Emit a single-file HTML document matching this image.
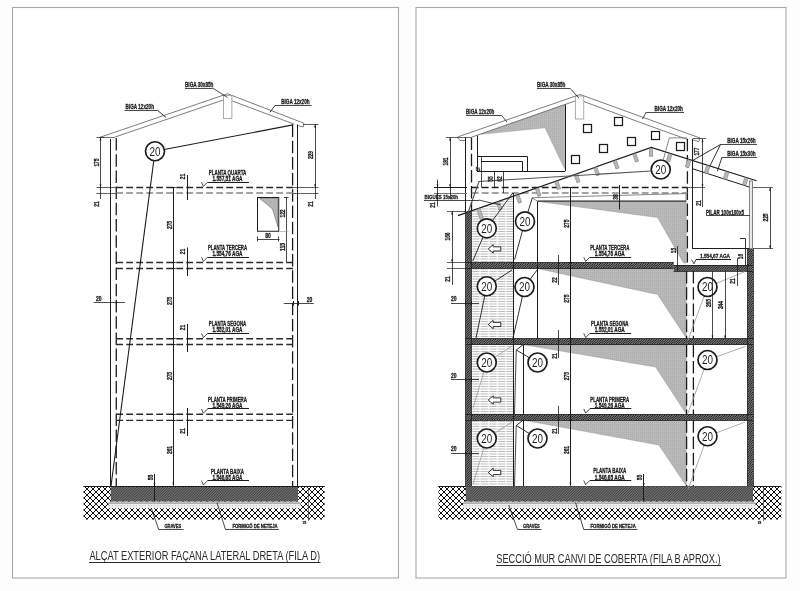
<!DOCTYPE html>
<html><head><meta charset="utf-8"><title>Seccions</title>
<style>
html,body{margin:0;padding:0;background:#fdfdfd;}
svg{display:block;will-change:transform;font-family:"Liberation Sans",sans-serif;}
</style></head><body>
<svg width="800" height="591" viewBox="0 0 800 591">
<defs>
<pattern id="xh" width="6" height="6" patternUnits="userSpaceOnUse" x="438" y="486">
<path d="M-1,7 L7,-1 M-1,1 L1,-1 M5,7 L7,5" stroke="#0a0a0a" stroke-width="0.95" fill="none"/>
<path d="M-1,-1 L7,7 M-1,5 L1,7 M5,-1 L7,1" stroke="#0a0a0a" stroke-width="1.0" fill="none"/>
</pattern>
<pattern id="dk" width="2.6" height="2.6" patternUnits="userSpaceOnUse">
<rect width="2.6" height="2.6" fill="#8c8c8c"/>
<path d="M-0.5,0.5 L0.5,-0.5 M-0.5,3.1 L3.1,-0.5 M2.1,3.1 L3.1,2.1" stroke="#2e2e2e" stroke-width="0.95"/>
</pattern>
<pattern id="wl" width="2.4" height="2.4" patternUnits="userSpaceOnUse">
<rect width="2.4" height="2.4" fill="#d4d4d4"/>
<path d="M-0.5,0.5 L0.5,-0.5 M-0.5,2.9 L2.9,-0.5 M1.9,2.9 L2.9,1.9" stroke="#050505" stroke-width="1.0"/>
</pattern>
<pattern id="lh" width="8.6" height="5" patternUnits="userSpaceOnUse" x="471.5" y="0">
<rect width="8.6" height="5" fill="#fdfdfd"/>
<path d="M0.6,1.5 H8 M0.6,4 H8" stroke="#bdbdbd" stroke-width="1"/>
</pattern>
<pattern id="gr" width="2" height="2" patternUnits="userSpaceOnUse">
<rect width="2" height="2" fill="#b9b9b9"/>
<rect width="1" height="1" fill="#adadad"/>
</pattern>
<pattern id="gv" width="3" height="3" patternUnits="userSpaceOnUse">
<rect width="3" height="3" fill="#ececec"/>
<rect x="1" y="1" width="1" height="1" fill="#c4c4c4"/>
</pattern>
</defs>
<rect x="12.5" y="7.5" width="386" height="570.5" fill="#fff" stroke="#a9a9a9" stroke-width="1.1"/>
<rect x="416" y="7.5" width="370" height="570.5" fill="#fff" stroke="#a9a9a9" stroke-width="1.1"/>

<g id="left">
<rect x="83.6" y="486" width="241" height="33.5" fill="url(#xh)" stroke="none" stroke-width="0" rx="0"/>
<line x1="83.6" y1="486.5" x2="324.6" y2="486.5" stroke="#1c1c1c" stroke-width="1.1"/>
<rect x="108.5" y="501.5" width="192" height="6.8" fill="url(#gv)" stroke="none" stroke-width="0" rx="0"/>
<line x1="108.5" y1="503.2" x2="300.5" y2="503.2" stroke="#b0b0b0" stroke-width="1.7"/>
<rect x="110.75" y="486.2" width="187.25" height="15.3" fill="url(#dk)" stroke="none" stroke-width="0" rx="0"/>
<line x1="110.75" y1="486.5" x2="298" y2="486.5" stroke="#1c1c1c" stroke-width="1"/>
<polyline points="99.4,137.5 227.5,93.75 303.9,123.2" fill="none" stroke="#6e6e6e" stroke-width="0.9"/>
<polyline points="114.25,137.3 223.6,99.9" fill="none" stroke="#6e6e6e" stroke-width="0.9"/>
<polyline points="232,100.9 294.3,124.2" fill="none" stroke="#6e6e6e" stroke-width="0.9"/>
<line x1="99.4" y1="137.5" x2="114.25" y2="137.5" stroke="#6e6e6e" stroke-width="1.0"/>
<polyline points="303.9,123.2 303.2,127 298,125.6" fill="none" stroke="#6e6e6e" stroke-width="0.9"/>
<rect x="223.6" y="95.5" width="8.3" height="23" fill="#fff" stroke="#888" stroke-width="0.7" rx="0"/>
<line x1="110.5" y1="139" x2="110.5" y2="486" stroke="#1c1c1c" stroke-width="1.0"/>
<line x1="116.25" y1="138" x2="116.25" y2="486" stroke="#1c1c1c" stroke-width="1.3" stroke-dasharray="12.5 3.7"/>
<line x1="292.6" y1="124.5" x2="292.6" y2="486" stroke="#1c1c1c" stroke-width="1.3" stroke-dasharray="12.5 3.7"/>
<line x1="297.5" y1="124.5" x2="297.5" y2="486" stroke="#1c1c1c" stroke-width="1.0"/>
<line x1="116.25" y1="187.5" x2="293" y2="187.5" stroke="#2a2a2a" stroke-width="1.3" stroke-dasharray="6.8 3.2"/>
<line x1="116.25" y1="193" x2="293" y2="193" stroke="#858585" stroke-width="1.6" stroke-dasharray="6.8 3.2"/>
<line x1="116.25" y1="262.5" x2="293" y2="262.5" stroke="#2a2a2a" stroke-width="1.3" stroke-dasharray="6.8 3.2"/>
<line x1="116.25" y1="268.5" x2="293" y2="268.5" stroke="#2a2a2a" stroke-width="1.3" stroke-dasharray="6.8 3.2"/>
<line x1="116.25" y1="338.75" x2="293" y2="338.75" stroke="#2a2a2a" stroke-width="1.3" stroke-dasharray="6.8 3.2"/>
<line x1="116.25" y1="344.5" x2="293" y2="344.5" stroke="#2a2a2a" stroke-width="1.3" stroke-dasharray="6.8 3.2"/>
<line x1="116.25" y1="414.25" x2="293" y2="414.25" stroke="#2a2a2a" stroke-width="1.3" stroke-dasharray="6.8 3.2"/>
<line x1="116.25" y1="420.3" x2="293" y2="420.3" stroke="#2a2a2a" stroke-width="1.3" stroke-dasharray="6.8 3.2"/>
<line x1="96.5" y1="187.5" x2="116" y2="187.5" stroke="#1c1c1c" stroke-width="0.7"/>
<line x1="96.5" y1="193.5" x2="116" y2="193.5" stroke="#1c1c1c" stroke-width="0.7"/>
<line x1="293" y1="187.5" x2="318.5" y2="187.5" stroke="#1c1c1c" stroke-width="0.7"/>
<line x1="293" y1="193.5" x2="318.5" y2="193.5" stroke="#1c1c1c" stroke-width="0.7"/>
<line x1="96.5" y1="137.5" x2="104" y2="137.5" stroke="#1c1c1c" stroke-width="0.7"/>
<line x1="303" y1="124.5" x2="318.5" y2="124.5" stroke="#1c1c1c" stroke-width="0.7"/>
<line x1="100.5" y1="137.2" x2="100.5" y2="199" stroke="#1c1c1c" stroke-width="0.8"/>
<polygon points="100.5,137.2 99.6,140.39999999999998 101.4,140.39999999999998" fill="#1c1c1c"/>
<polygon points="100.5,187.5 99.6,184.3 101.4,184.3" fill="#1c1c1c"/>
<text x="98.8" y="162.5" font-size="7" text-anchor="middle" font-weight="bold" fill="#1c1c1c" stroke="#1c1c1c" stroke-width="0.3" textLength="8.2" lengthAdjust="spacingAndGlyphs" transform="rotate(-90 98.8 162.5)">175</text>
<text x="98.8" y="204" font-size="7" text-anchor="middle" font-weight="bold" fill="#1c1c1c" stroke="#1c1c1c" stroke-width="0.3" textLength="5.4" lengthAdjust="spacingAndGlyphs" transform="rotate(-90 98.8 204)">21</text>
<line x1="315.5" y1="124.2" x2="315.5" y2="199" stroke="#1c1c1c" stroke-width="0.8"/>
<polygon points="315,124.2 314.1,127.4 315.9,127.4" fill="#1c1c1c"/>
<polygon points="315,187.5 314.1,184.3 315.9,184.3" fill="#1c1c1c"/>
<text x="313.3" y="155" font-size="7" text-anchor="middle" font-weight="bold" fill="#1c1c1c" stroke="#1c1c1c" stroke-width="0.3" textLength="8.2" lengthAdjust="spacingAndGlyphs" transform="rotate(-90 313.3 155)">229</text>
<text x="313.3" y="204" font-size="7" text-anchor="middle" font-weight="bold" fill="#1c1c1c" stroke="#1c1c1c" stroke-width="0.3" textLength="5.4" lengthAdjust="spacingAndGlyphs" transform="rotate(-90 313.3 204)">21</text>
<line x1="173.5" y1="187.5" x2="173.5" y2="485.8" stroke="#1c1c1c" stroke-width="1"/>
<line x1="171" y1="187.5" x2="175.6" y2="187.5" stroke="#1c1c1c" stroke-width="1.0"/>
<line x1="171" y1="262.5" x2="175.6" y2="262.5" stroke="#1c1c1c" stroke-width="1.0"/>
<line x1="171" y1="268.5" x2="175.6" y2="268.5" stroke="#1c1c1c" stroke-width="1.0"/>
<line x1="171" y1="338.5" x2="175.6" y2="338.5" stroke="#1c1c1c" stroke-width="1.0"/>
<line x1="171" y1="344.5" x2="175.6" y2="344.5" stroke="#1c1c1c" stroke-width="1.0"/>
<line x1="171" y1="414.5" x2="175.6" y2="414.5" stroke="#1c1c1c" stroke-width="1.0"/>
<line x1="171" y1="420.5" x2="175.6" y2="420.5" stroke="#1c1c1c" stroke-width="1.0"/>
<polygon points="173.3,485.8 172.4,482.6 174.20000000000002,482.6" fill="#1c1c1c"/>
<text x="172.2" y="225" font-size="7" text-anchor="middle" font-weight="bold" fill="#1c1c1c" stroke="#1c1c1c" stroke-width="0.3" textLength="8.2" lengthAdjust="spacingAndGlyphs" transform="rotate(-90 172.2 225)">275</text>
<text x="172.2" y="301" font-size="7" text-anchor="middle" font-weight="bold" fill="#1c1c1c" stroke="#1c1c1c" stroke-width="0.3" textLength="8.2" lengthAdjust="spacingAndGlyphs" transform="rotate(-90 172.2 301)">275</text>
<text x="172.2" y="376" font-size="7" text-anchor="middle" font-weight="bold" fill="#1c1c1c" stroke="#1c1c1c" stroke-width="0.3" textLength="8.2" lengthAdjust="spacingAndGlyphs" transform="rotate(-90 172.2 376)">275</text>
<text x="172.2" y="450" font-size="7" text-anchor="middle" font-weight="bold" fill="#1c1c1c" stroke="#1c1c1c" stroke-width="0.3" textLength="8.2" lengthAdjust="spacingAndGlyphs" transform="rotate(-90 172.2 450)">261</text>
<line x1="187.5" y1="175" x2="187.5" y2="200" stroke="#1c1c1c" stroke-width="1.0"/>
<text x="185.3" y="176.5" font-size="7" text-anchor="middle" font-weight="bold" fill="#1c1c1c" stroke="#1c1c1c" stroke-width="0.3" textLength="5.4" lengthAdjust="spacingAndGlyphs" transform="rotate(-90 185.3 176.5)">21</text>
<line x1="187.5" y1="247.5" x2="187.5" y2="276" stroke="#1c1c1c" stroke-width="1.0"/>
<text x="185.3" y="251.5" font-size="7" text-anchor="middle" font-weight="bold" fill="#1c1c1c" stroke="#1c1c1c" stroke-width="0.3" textLength="5.4" lengthAdjust="spacingAndGlyphs" transform="rotate(-90 185.3 251.5)">21</text>
<line x1="187.5" y1="324" x2="187.5" y2="352" stroke="#1c1c1c" stroke-width="1.0"/>
<text x="185.3" y="327.5" font-size="7" text-anchor="middle" font-weight="bold" fill="#1c1c1c" stroke="#1c1c1c" stroke-width="0.3" textLength="5.4" lengthAdjust="spacingAndGlyphs" transform="rotate(-90 185.3 327.5)">21</text>
<line x1="187.5" y1="408" x2="187.5" y2="436" stroke="#1c1c1c" stroke-width="1.0"/>
<text x="185.3" y="431" font-size="7" text-anchor="middle" font-weight="bold" fill="#1c1c1c" stroke="#1c1c1c" stroke-width="0.3" textLength="5.4" lengthAdjust="spacingAndGlyphs" transform="rotate(-90 185.3 431)">21</text>
<text x="98.7" y="300.7" font-size="7" text-anchor="middle" font-weight="bold" fill="#1c1c1c" stroke="#1c1c1c" stroke-width="0.3" textLength="5.6" lengthAdjust="spacingAndGlyphs">20</text>
<line x1="93.75" y1="302.5" x2="125" y2="302.5" stroke="#1c1c1c" stroke-width="0.8"/>
<line x1="110.5" y1="299.8" x2="110.5" y2="304.2" stroke="#1c1c1c" stroke-width="1"/>
<line x1="116.5" y1="299.8" x2="116.5" y2="304.2" stroke="#1c1c1c" stroke-width="1"/>
<text x="309.5" y="302" font-size="7" text-anchor="middle" font-weight="bold" fill="#1c1c1c" stroke="#1c1c1c" stroke-width="0.3" textLength="5.6" lengthAdjust="spacingAndGlyphs">20</text>
<line x1="283.75" y1="303.5" x2="313.75" y2="303.5" stroke="#1c1c1c" stroke-width="0.8"/>
<line x1="293.5" y1="301" x2="293.5" y2="305.6" stroke="#1c1c1c" stroke-width="1"/>
<line x1="298.5" y1="301" x2="298.5" y2="305.6" stroke="#1c1c1c" stroke-width="1"/>
<rect x="257.5" y="197.5" width="21.25" height="33.75" fill="#fff" stroke="#1c1c1c" stroke-width="1" rx="0"/>
<polygon points="259.5,198.3 278,198.3 278,227 272.5,209" fill="#b5b5b5" stroke="#555" stroke-width="0.5"/>
<line x1="286.5" y1="197.5" x2="286.5" y2="262.5" stroke="#1c1c1c" stroke-width="0.8"/>
<line x1="284" y1="197.5" x2="288.5" y2="197.5" stroke="#1c1c1c" stroke-width="0.8"/>
<line x1="280" y1="231.5" x2="288.5" y2="231.5" stroke="#999" stroke-width="0.6"/>
<text x="284.6" y="213.5" font-size="7" text-anchor="middle" font-weight="bold" fill="#1c1c1c" stroke="#1c1c1c" stroke-width="0.3" textLength="8.2" lengthAdjust="spacingAndGlyphs" transform="rotate(-90 284.6 213.5)">122</text>
<text x="284.6" y="247" font-size="7" text-anchor="middle" font-weight="bold" fill="#1c1c1c" stroke="#1c1c1c" stroke-width="0.3" textLength="8.2" lengthAdjust="spacingAndGlyphs" transform="rotate(-90 284.6 247)">115</text>
<line x1="257" y1="239.5" x2="279.5" y2="239.5" stroke="#1c1c1c" stroke-width="0.8"/>
<line x1="257.5" y1="236.5" x2="257.5" y2="241.5" stroke="#1c1c1c" stroke-width="0.8"/>
<line x1="278.5" y1="236.5" x2="278.5" y2="241.5" stroke="#1c1c1c" stroke-width="0.8"/>
<text x="268" y="237.6" font-size="7" text-anchor="middle" font-weight="bold" fill="#1c1c1c" stroke="#1c1c1c" stroke-width="0.3" textLength="5.6" lengthAdjust="spacingAndGlyphs">80</text>
<line x1="155" y1="151.25" x2="292.9" y2="124.9" stroke="#1c1c1c" stroke-width="1.1"/>
<line x1="155" y1="151.25" x2="111" y2="486" stroke="#1c1c1c" stroke-width="1.1"/>
<circle cx="155" cy="151.25" r="9.5" fill="#fff" stroke="#1c1c1c" stroke-width="1.7"/>
<text x="155" y="155.55" font-size="12" text-anchor="middle" font-weight="normal" fill="#1c1c1c" textLength="11" lengthAdjust="spacingAndGlyphs">20</text>
<text x="227.5" y="175.0" font-size="7" text-anchor="middle" font-weight="bold" fill="#1c1c1c" stroke="#1c1c1c" stroke-width="0.3" textLength="37.5" lengthAdjust="spacingAndGlyphs">PLANTA QUARTA</text>
<text x="227.5" y="181.2" font-size="6.3" text-anchor="middle" font-weight="bold" fill="#1c1c1c" stroke="#1c1c1c" stroke-width="0.3" textLength="30" lengthAdjust="spacingAndGlyphs">1.557,51 AGA</text>
<line x1="207.5" y1="182.5" x2="249.0" y2="182.5" stroke="#1c1c1c" stroke-width="1.0"/>
<polyline points="201.5,182.2 203.4,186.39999999999998 207.5,182.2" fill="none" stroke="#1c1c1c" stroke-width="0.8"/>
<text x="227.5" y="250.0" font-size="7" text-anchor="middle" font-weight="bold" fill="#1c1c1c" stroke="#1c1c1c" stroke-width="0.3" textLength="39" lengthAdjust="spacingAndGlyphs">PLANTA TERCERA</text>
<text x="227.5" y="256.2" font-size="6.3" text-anchor="middle" font-weight="bold" fill="#1c1c1c" stroke="#1c1c1c" stroke-width="0.3" textLength="30" lengthAdjust="spacingAndGlyphs">1.554,76 AGA</text>
<line x1="207.5" y1="257.5" x2="249.0" y2="257.5" stroke="#1c1c1c" stroke-width="1.0"/>
<polyline points="201.5,257.2 203.4,261.4 207.5,257.2" fill="none" stroke="#1c1c1c" stroke-width="0.8"/>
<text x="227.5" y="326.25" font-size="7" text-anchor="middle" font-weight="bold" fill="#1c1c1c" stroke="#1c1c1c" stroke-width="0.3" textLength="37.5" lengthAdjust="spacingAndGlyphs">PLANTA SEGONA</text>
<text x="227.5" y="332.45" font-size="6.3" text-anchor="middle" font-weight="bold" fill="#1c1c1c" stroke="#1c1c1c" stroke-width="0.3" textLength="30" lengthAdjust="spacingAndGlyphs">1.552,01 AGA</text>
<line x1="207.5" y1="333.5" x2="249.0" y2="333.5" stroke="#1c1c1c" stroke-width="1.0"/>
<polyline points="201.5,333.45 203.4,337.65 207.5,333.45" fill="none" stroke="#1c1c1c" stroke-width="0.8"/>
<text x="227.5" y="401.75" font-size="7" text-anchor="middle" font-weight="bold" fill="#1c1c1c" stroke="#1c1c1c" stroke-width="0.3" textLength="39" lengthAdjust="spacingAndGlyphs">PLANTA PRIMERA</text>
<text x="227.5" y="407.95" font-size="6.3" text-anchor="middle" font-weight="bold" fill="#1c1c1c" stroke="#1c1c1c" stroke-width="0.3" textLength="30" lengthAdjust="spacingAndGlyphs">1.549,26 AGA</text>
<line x1="207.5" y1="408.5" x2="249.0" y2="408.5" stroke="#1c1c1c" stroke-width="1.0"/>
<polyline points="201.5,408.95 203.4,413.15 207.5,408.95" fill="none" stroke="#1c1c1c" stroke-width="0.8"/>
<text x="227.5" y="473.5" font-size="7" text-anchor="middle" font-weight="bold" fill="#1c1c1c" stroke="#1c1c1c" stroke-width="0.3" textLength="33" lengthAdjust="spacingAndGlyphs">PLANTA BAIXA</text>
<text x="227.5" y="479.7" font-size="6.3" text-anchor="middle" font-weight="bold" fill="#1c1c1c" stroke="#1c1c1c" stroke-width="0.3" textLength="30" lengthAdjust="spacingAndGlyphs">1.546,65 AGA</text>
<line x1="207.5" y1="480.5" x2="249.0" y2="480.5" stroke="#1c1c1c" stroke-width="1.0"/>
<polyline points="201.5,480.7 203.4,484.9 207.5,480.7" fill="none" stroke="#1c1c1c" stroke-width="0.8"/>
<text x="185" y="86.8" font-size="6.8" text-anchor="start" font-weight="bold" fill="#1c1c1c" stroke="#1c1c1c" stroke-width="0.3" textLength="28.4" lengthAdjust="spacingAndGlyphs">BIGA 30x85h</text>
<line x1="185" y1="88.5" x2="212.5" y2="88.5" stroke="#1c1c1c" stroke-width="0.8"/>
<line x1="212.5" y1="88" x2="227.5" y2="97.5" stroke="#1c1c1c" stroke-width="0.8"/>
<text x="125.6" y="108.8" font-size="6.8" text-anchor="start" font-weight="bold" fill="#1c1c1c" stroke="#1c1c1c" stroke-width="0.3" textLength="28.4" lengthAdjust="spacingAndGlyphs">BIGA 12x20h</text>
<line x1="124.75" y1="110.5" x2="157.1" y2="110.5" stroke="#1c1c1c" stroke-width="0.8"/>
<line x1="157.1" y1="110" x2="165.9" y2="117.4" stroke="#1c1c1c" stroke-width="0.9"/>
<text x="281.2" y="104.2" font-size="6.8" text-anchor="start" font-weight="bold" fill="#1c1c1c" stroke="#1c1c1c" stroke-width="0.3" textLength="28.4" lengthAdjust="spacingAndGlyphs">BIGA 12x20h</text>
<line x1="275" y1="105.5" x2="311.5" y2="105.5" stroke="#1c1c1c" stroke-width="0.8"/>
<line x1="275" y1="105.4" x2="269.9" y2="112.3" stroke="#1c1c1c" stroke-width="0.9"/>
<line x1="154.5" y1="474" x2="154.5" y2="501.5" stroke="#1c1c1c" stroke-width="1.0"/>
<polygon points="154.5,486.2 153.6,483.0 155.4,483.0" fill="#1c1c1c"/>
<polygon points="154.5,501.5 153.6,498.3 155.4,498.3" fill="#1c1c1c"/>
<text x="152.8" y="477.5" font-size="7" text-anchor="middle" font-weight="bold" fill="#1c1c1c" stroke="#1c1c1c" stroke-width="0.3" textLength="5.6" lengthAdjust="spacingAndGlyphs" transform="rotate(-90 152.8 477.5)">55</text>
<line x1="308.5" y1="488" x2="308.5" y2="521" stroke="#444" stroke-width="0.7"/>
<text x="306" y="522.5" font-size="3.6" text-anchor="middle" font-weight="bold" fill="#1c1c1c" stroke="#1c1c1c" stroke-width="0.3" textLength="3.2" lengthAdjust="spacingAndGlyphs" transform="rotate(-90 306 522.5)">15</text>
<text x="164.4" y="528.4" font-size="5.4" text-anchor="start" font-weight="bold" fill="#1c1c1c" stroke="#1c1c1c" stroke-width="0.3" textLength="16.8" lengthAdjust="spacingAndGlyphs">GRAVES</text>
<line x1="158.75" y1="529.5" x2="183.5" y2="529.5" stroke="#1c1c1c" stroke-width="0.8"/>
<line x1="158.75" y1="529.6" x2="151.25" y2="508" stroke="#1c1c1c" stroke-width="0.8"/>
<text x="232.4" y="528.4" font-size="5.4" text-anchor="start" font-weight="bold" fill="#1c1c1c" stroke="#1c1c1c" stroke-width="0.3" textLength="45.2" lengthAdjust="spacingAndGlyphs">FORMIGÓ DE NETEJA</text>
<line x1="225.5" y1="529.5" x2="279" y2="529.5" stroke="#1c1c1c" stroke-width="0.8"/>
<line x1="225.5" y1="529.6" x2="217" y2="502.5" stroke="#1c1c1c" stroke-width="0.8"/>
<text x="89.4" y="559.7" font-size="12.2" text-anchor="start" font-weight="normal" fill="#2a2a2a" textLength="230.6" lengthAdjust="spacingAndGlyphs">ALÇAT EXTERIOR FAÇANA LATERAL DRETA (FILA D)</text>
<line x1="89" y1="562.5" x2="320.5" y2="562.5" stroke="#2a2a2a" stroke-width="1.0"/>
</g>
<g id="right">
<rect x="438.4" y="486" width="343" height="33.5" fill="url(#xh)" stroke="none" stroke-width="0" rx="0"/>
<line x1="438.4" y1="486.5" x2="781.4" y2="486.5" stroke="#1c1c1c" stroke-width="1.1"/>
<rect x="463" y="501.5" width="292.5" height="6.8" fill="url(#gv)" stroke="none" stroke-width="0" rx="0"/>
<line x1="463" y1="503.2" x2="755.5" y2="503.2" stroke="#b0b0b0" stroke-width="1.7"/>
<rect x="465.75" y="486.2" width="287.25" height="15.3" fill="url(#dk)" stroke="none" stroke-width="0" rx="0"/>
<polygon points="471.25,211 513,196.5 513,262.5 471.25,262.5" fill="url(#lh)"/>
<rect x="471.25" y="268.5" width="41.75" height="70.25" fill="url(#lh)" stroke="none" stroke-width="0" rx="0"/>
<rect x="471.25" y="344.75" width="41.75" height="69.5" fill="url(#lh)" stroke="none" stroke-width="0" rx="0"/>
<rect x="471.25" y="420.25" width="41.75" height="65.75" fill="url(#lh)" stroke="none" stroke-width="0" rx="0"/>
<polygon points="481,134.3 564.5,104.8 564.5,168.8 545,127.8" fill="url(#gr)" stroke="#8a8a8a" stroke-width="0.4"/>
<polygon points="538,201.5 686.25,201.5 686.25,263 683.5,263 657.5,217.5" fill="url(#gr)" stroke="#8a8a8a" stroke-width="0.4"/>
<polygon points="537.5,268.6 673,268.6 673,271 686.25,271 686.25,338 657.5,294.5" fill="url(#gr)" stroke="#8a8a8a" stroke-width="0.4"/>
<polygon points="523.75,344.75 686.25,344.75 686.25,414 655.5,367" fill="url(#gr)" stroke="#8a8a8a" stroke-width="0.4"/>
<polygon points="523.75,420.25 686.25,420.25 686.25,485.8 658.75,445" fill="url(#gr)" stroke="#8a8a8a" stroke-width="0.4"/>
<rect x="465.75" y="211.25" width="5.5" height="275" fill="url(#wl)" stroke="none" stroke-width="0" rx="0"/>
<rect x="747.5" y="248.75" width="5.5" height="237.5" fill="url(#wl)" stroke="none" stroke-width="0" rx="0"/>
<rect x="465.75" y="262.5" width="208" height="6" fill="url(#wl)" stroke="none" stroke-width="0" rx="0"/>
<rect x="673.7" y="265" width="79.3" height="6" fill="url(#wl)" stroke="none" stroke-width="0" rx="0"/>
<rect x="465.75" y="338.75" width="287.25" height="6" fill="url(#wl)" stroke="none" stroke-width="0" rx="0"/>
<rect x="465.75" y="414.25" width="287.25" height="6" fill="url(#wl)" stroke="none" stroke-width="0" rx="0"/>
<line x1="465.75" y1="262.5" x2="673.7" y2="262.5" stroke="#1c1c1c" stroke-width="0.8"/>
<line x1="465.75" y1="268.5" x2="673.7" y2="268.5" stroke="#1c1c1c" stroke-width="0.8"/>
<line x1="673.7" y1="265.5" x2="753" y2="265.5" stroke="#1c1c1c" stroke-width="0.8"/>
<line x1="673.7" y1="271.5" x2="753" y2="271.5" stroke="#1c1c1c" stroke-width="0.8"/>
<line x1="465.75" y1="338.5" x2="753" y2="338.5" stroke="#1c1c1c" stroke-width="0.8"/>
<line x1="465.75" y1="344.5" x2="753" y2="344.5" stroke="#1c1c1c" stroke-width="0.8"/>
<line x1="465.75" y1="414.5" x2="753" y2="414.5" stroke="#1c1c1c" stroke-width="0.8"/>
<line x1="465.75" y1="420.5" x2="753" y2="420.5" stroke="#1c1c1c" stroke-width="0.8"/>
<line x1="465.5" y1="211.25" x2="465.5" y2="486" stroke="#1c1c1c" stroke-width="0.8"/>
<line x1="471.5" y1="211.25" x2="471.5" y2="486" stroke="#1c1c1c" stroke-width="0.8"/>
<line x1="747.5" y1="248.75" x2="747.5" y2="486" stroke="#1c1c1c" stroke-width="0.8"/>
<line x1="753.5" y1="248.75" x2="753.5" y2="486" stroke="#1c1c1c" stroke-width="0.8"/>
<polyline points="457.5,137 580,94.5 700,138" fill="none" stroke="#6e6e6e" stroke-width="0.9"/>
<polyline points="471.5,137.2 575.3,100.9" fill="none" stroke="#6e6e6e" stroke-width="0.9"/>
<polyline points="583.8,101.5 640,122.4 687.5,139.5" fill="none" stroke="#6e6e6e" stroke-width="0.9"/>
<line x1="457.5" y1="137.5" x2="471.5" y2="137.5" stroke="#6e6e6e" stroke-width="1.0"/>
<polyline points="457.5,137 460,140.5 466,140.5" fill="none" stroke="#6e6e6e" stroke-width="0.9"/>
<polyline points="700,138 699,141.5 693,140" fill="none" stroke="#6e6e6e" stroke-width="0.9"/>
<rect x="575.3" y="96" width="8.5" height="23" fill="#fff" stroke="#888" stroke-width="0.7" rx="0"/>
<line x1="465.5" y1="137.5" x2="465.5" y2="211.25" stroke="#1c1c1c" stroke-width="1.0"/>
<line x1="471.5" y1="137.5" x2="471.5" y2="211" stroke="#1c1c1c" stroke-width="1.3" stroke-dasharray="12.5 3.7"/>
<line x1="687.4" y1="138.8" x2="687.4" y2="262.5" stroke="#1c1c1c" stroke-width="1.3" stroke-dasharray="12.5 3.7"/>
<line x1="686.6" y1="271" x2="686.6" y2="338.75" stroke="#1c1c1c" stroke-width="1.3" stroke-dasharray="12.5 3.7"/>
<line x1="686.6" y1="344.75" x2="686.6" y2="414.25" stroke="#1c1c1c" stroke-width="1.3" stroke-dasharray="12.5 3.7"/>
<line x1="686.6" y1="420.25" x2="686.6" y2="486" stroke="#1c1c1c" stroke-width="1.3" stroke-dasharray="12.5 3.7"/>
<line x1="692.5" y1="138.8" x2="692.5" y2="248.75" stroke="#1c1c1c" stroke-width="1.0"/>
<line x1="693.4" y1="271" x2="693.4" y2="338.75" stroke="#1c1c1c" stroke-width="1.3" stroke-dasharray="12.5 3.7"/>
<line x1="693.4" y1="344.75" x2="693.4" y2="414.25" stroke="#1c1c1c" stroke-width="1.3" stroke-dasharray="12.5 3.7"/>
<line x1="693.4" y1="420.25" x2="693.4" y2="486" stroke="#1c1c1c" stroke-width="1.3" stroke-dasharray="12.5 3.7"/>
<line x1="477.5" y1="135.5" x2="477.5" y2="171.25" stroke="#1c1c1c" stroke-width="1.0"/>
<line x1="477" y1="171.5" x2="565" y2="171.5" stroke="#1c1c1c" stroke-width="1.0"/>
<line x1="565.5" y1="104.5" x2="565.5" y2="171.25" stroke="#1c1c1c" stroke-width="1.0"/>
<path d="M477,156.5 H527.5 V171" fill="none" stroke="#1c1c1c" stroke-width="1"/>
<path d="M481,161.5 H522.5 V171" fill="none" stroke="#1c1c1c" stroke-width="1"/>
<rect x="583.5" y="124.5" width="8" height="8" fill="#fff" stroke="#1c1c1c" stroke-width="1.25" rx="0"/>
<rect x="599.5" y="144.5" width="8" height="8" fill="#fff" stroke="#1c1c1c" stroke-width="1.25" rx="0"/>
<rect x="571.5" y="155.5" width="8" height="8" fill="#fff" stroke="#1c1c1c" stroke-width="1.25" rx="0"/>
<rect x="614.5" y="117.5" width="8" height="8" fill="#fff" stroke="#1c1c1c" stroke-width="1.25" rx="0"/>
<rect x="627.5" y="137.5" width="8" height="8" fill="#fff" stroke="#1c1c1c" stroke-width="1.25" rx="0"/>
<rect x="651.5" y="131.5" width="8" height="8" fill="#fff" stroke="#1c1c1c" stroke-width="1.25" rx="0"/>
<rect x="676.5" y="142.5" width="8" height="8" fill="#fff" stroke="#1c1c1c" stroke-width="1.25" rx="0"/>
<line x1="471.8" y1="187.5" x2="687.5" y2="187.5" stroke="#1c1c1c" stroke-width="1.3" stroke-dasharray="6.8 3.2"/>
<line x1="471.8" y1="193" x2="687.5" y2="193" stroke="#858585" stroke-width="1.5" stroke-dasharray="6.8 3.2"/>
<line x1="434" y1="187.5" x2="467" y2="187.5" stroke="#1c1c1c" stroke-width="1.0"/>
<line x1="434" y1="193.5" x2="467" y2="193.5" stroke="#777" stroke-width="1.1"/>
<line x1="687.5" y1="187.5" x2="705" y2="187.5" stroke="#1c1c1c" stroke-width="0.7"/>
<line x1="753" y1="187.5" x2="773" y2="187.5" stroke="#1c1c1c" stroke-width="0.7"/>
<polyline points="458,215.6 651.25,147.5 756.5,180.8" fill="none" stroke="#1c1c1c" stroke-width="1.2"/>
<line x1="692.7" y1="168.8" x2="749.8" y2="187.2" stroke="#1c1c1c" stroke-width="1"/>
<rect x="-1.65" y="0" width="3.3" height="8" fill="#b8b8b8" stroke="#777" stroke-width="0.5" transform="translate(634.4 154.03664) rotate(-19)"/>
<rect x="-1.65" y="0" width="3.3" height="8" fill="#b8b8b8" stroke="#777" stroke-width="0.5" transform="translate(614.9 160.90844) rotate(-19)"/>
<rect x="-1.65" y="0" width="3.3" height="8" fill="#b8b8b8" stroke="#777" stroke-width="0.5" transform="translate(595.4 167.78024) rotate(-19)"/>
<rect x="-1.65" y="0" width="3.3" height="8" fill="#b8b8b8" stroke="#777" stroke-width="0.5" transform="translate(575.9 174.65204) rotate(-19)"/>
<rect x="-1.65" y="0" width="3.3" height="8" fill="#b8b8b8" stroke="#777" stroke-width="0.5" transform="translate(556.4 181.52384) rotate(-19)"/>
<rect x="-1.65" y="0" width="3.3" height="8" fill="#b8b8b8" stroke="#777" stroke-width="0.5" transform="translate(536.9 188.39564) rotate(-19)"/>
<rect x="-1.65" y="0" width="3.3" height="8" fill="#b8b8b8" stroke="#777" stroke-width="0.5" transform="translate(517.4 195.26744) rotate(-19)"/>
<rect x="-1.65" y="0" width="3.3" height="8" fill="#b8b8b8" stroke="#777" stroke-width="0.5" transform="translate(497.9 202.13924) rotate(-19)"/>
<rect x="-1.65" y="0" width="3.3" height="12" fill="#b8b8b8" stroke="#777" stroke-width="0.5" transform="translate(478.4 209.01104) rotate(-19)"/>
<rect x="-1.75" y="0" width="3.5" height="7.5" fill="#b8b8b8" stroke="#777" stroke-width="0.5" transform="translate(670.25 154.0546) rotate(17)"/>
<rect x="-1.75" y="0" width="3.5" height="7.5" fill="#b8b8b8" stroke="#777" stroke-width="0.5" transform="translate(689.2 159.99353000000002) rotate(17)"/>
<rect x="-1.75" y="0" width="3.5" height="7.5" fill="#b8b8b8" stroke="#777" stroke-width="0.5" transform="translate(708.2 165.94813000000002) rotate(17)"/>
<rect x="-1.75" y="0" width="3.5" height="7.5" fill="#b8b8b8" stroke="#777" stroke-width="0.5" transform="translate(727.2 171.90273000000002) rotate(17)"/>
<rect x="-1.75" y="0" width="3.5" height="7.5" fill="#b8b8b8" stroke="#777" stroke-width="0.5" transform="translate(746.4 177.92001) rotate(17)"/>
<rect x="-1.75" y="0" width="3.5" height="8" fill="#b8b8b8" stroke="#777" stroke-width="0.5" transform="translate(651 148.2) rotate(0)"/>
<polyline points="467.5,214 479,181.5 651,171" fill="none" stroke="#555" stroke-width="1.1"/>
<line x1="513.5" y1="193" x2="513.5" y2="486" stroke="#1c1c1c" stroke-width="1"/>
<line x1="537.5" y1="201.2" x2="537.5" y2="338.75" stroke="#1c1c1c" stroke-width="1"/>
<polygon points="532,197.7 686,193.6 686,201.2 537.5,201.2" fill="#fff" stroke="#555" stroke-width="0.7"/>
<line x1="537.5" y1="201.2" x2="686" y2="201.2" stroke="#444" stroke-width="1.3"/>
<line x1="523.5" y1="344.75" x2="523.5" y2="414.25" stroke="#1c1c1c" stroke-width="1"/>
<line x1="523.5" y1="420.25" x2="523.5" y2="486" stroke="#1c1c1c" stroke-width="1"/>
<line x1="516.25" y1="350" x2="514.5" y2="414" stroke="#1c1c1c" stroke-width="0.8"/>
<line x1="516.25" y1="425.5" x2="514.5" y2="486" stroke="#1c1c1c" stroke-width="0.8"/>
<line x1="692.5" y1="248.5" x2="750" y2="248.5" stroke="#1c1c1c" stroke-width="1.0"/>
<rect x="749.3" y="181" width="3.2" height="67.75" fill="#e8e8e8" stroke="#555" stroke-width="0.7" rx="0"/>
<polyline points="740,238.5 745.5,238.5 745.5,265" fill="none" stroke="#1c1c1c" stroke-width="0.9"/>
<line x1="486.8" y1="228.3" x2="472.7" y2="261" stroke="#1c1c1c" stroke-width="0.9"/>
<line x1="486.8" y1="228.3" x2="512.75" y2="193" stroke="#1c1c1c" stroke-width="0.9"/>
<line x1="525" y1="221.3" x2="514.6" y2="259.6" stroke="#1c1c1c" stroke-width="0.9"/>
<line x1="525" y1="221.3" x2="532.25" y2="198" stroke="#1c1c1c" stroke-width="0.9"/>
<line x1="486.75" y1="286.25" x2="476" y2="338" stroke="#1c1c1c" stroke-width="0.9"/>
<line x1="486.75" y1="286.25" x2="512" y2="270" stroke="#1c1c1c" stroke-width="0.9"/>
<line x1="524.5" y1="287" x2="513" y2="338" stroke="#1c1c1c" stroke-width="0.9"/>
<line x1="524.5" y1="287" x2="537" y2="270" stroke="#1c1c1c" stroke-width="0.9"/>
<line x1="486.75" y1="362.5" x2="473" y2="408" stroke="#9a9a9a" stroke-width="0.8"/>
<line x1="486.75" y1="362.5" x2="512" y2="346" stroke="#9a9a9a" stroke-width="0.8"/>
<line x1="486.75" y1="438.5" x2="473" y2="484" stroke="#9a9a9a" stroke-width="0.8"/>
<line x1="486.75" y1="438.5" x2="512" y2="422" stroke="#9a9a9a" stroke-width="0.8"/>
<line x1="537.5" y1="362.5" x2="516.25" y2="350" stroke="#1c1c1c" stroke-width="0.9"/>
<line x1="516.25" y1="350" x2="523" y2="344.75" stroke="#1c1c1c" stroke-width="0.9"/>
<line x1="537.5" y1="438.5" x2="516.25" y2="425.5" stroke="#1c1c1c" stroke-width="0.9"/>
<line x1="516.25" y1="425.5" x2="523" y2="420.25" stroke="#1c1c1c" stroke-width="0.9"/>
<line x1="707.5" y1="287" x2="745" y2="271.5" stroke="#9a9a9a" stroke-width="0.8"/>
<line x1="707.5" y1="287" x2="688" y2="340" stroke="#9a9a9a" stroke-width="0.8"/>
<line x1="707.5" y1="360" x2="745" y2="346.5" stroke="#9a9a9a" stroke-width="0.8"/>
<line x1="707.5" y1="360" x2="688" y2="413" stroke="#9a9a9a" stroke-width="0.8"/>
<line x1="707.5" y1="436.25" x2="745" y2="422.0" stroke="#9a9a9a" stroke-width="0.8"/>
<line x1="707.5" y1="436.25" x2="688" y2="489.25" stroke="#9a9a9a" stroke-width="0.8"/>
<polyline points="663.25,159.75 669.4,137.9 687,137.9" fill="none" stroke="#777" stroke-width="0.9"/>
<circle cx="486.8" cy="228.3" r="9.5" fill="#fff" stroke="#1c1c1c" stroke-width="1.7"/>
<text x="486.8" y="232.60000000000002" font-size="12" text-anchor="middle" font-weight="normal" fill="#1c1c1c" textLength="11" lengthAdjust="spacingAndGlyphs">20</text>
<circle cx="525" cy="221.3" r="9.5" fill="#fff" stroke="#1c1c1c" stroke-width="1.7"/>
<text x="525" y="225.60000000000002" font-size="12" text-anchor="middle" font-weight="normal" fill="#1c1c1c" textLength="11" lengthAdjust="spacingAndGlyphs">20</text>
<circle cx="486.75" cy="286.25" r="9.5" fill="#fff" stroke="#1c1c1c" stroke-width="1.7"/>
<text x="486.75" y="290.55" font-size="12" text-anchor="middle" font-weight="normal" fill="#1c1c1c" textLength="11" lengthAdjust="spacingAndGlyphs">20</text>
<circle cx="524.5" cy="287" r="9.5" fill="#fff" stroke="#1c1c1c" stroke-width="1.7"/>
<text x="524.5" y="291.3" font-size="12" text-anchor="middle" font-weight="normal" fill="#1c1c1c" textLength="11" lengthAdjust="spacingAndGlyphs">20</text>
<circle cx="486.75" cy="362.5" r="9.5" fill="#fff" stroke="#1c1c1c" stroke-width="1.7"/>
<text x="486.75" y="366.8" font-size="12" text-anchor="middle" font-weight="normal" fill="#1c1c1c" textLength="11" lengthAdjust="spacingAndGlyphs">20</text>
<circle cx="537.5" cy="362.5" r="9.5" fill="#fff" stroke="#1c1c1c" stroke-width="1.7"/>
<text x="537.5" y="366.8" font-size="12" text-anchor="middle" font-weight="normal" fill="#1c1c1c" textLength="11" lengthAdjust="spacingAndGlyphs">20</text>
<circle cx="486.75" cy="438.5" r="9.5" fill="#fff" stroke="#1c1c1c" stroke-width="1.7"/>
<text x="486.75" y="442.8" font-size="12" text-anchor="middle" font-weight="normal" fill="#1c1c1c" textLength="11" lengthAdjust="spacingAndGlyphs">20</text>
<circle cx="537.5" cy="438.5" r="9.5" fill="#fff" stroke="#1c1c1c" stroke-width="1.7"/>
<text x="537.5" y="442.8" font-size="12" text-anchor="middle" font-weight="normal" fill="#1c1c1c" textLength="11" lengthAdjust="spacingAndGlyphs">20</text>
<circle cx="707.5" cy="287" r="9.5" fill="#fff" stroke="#1c1c1c" stroke-width="1.7"/>
<text x="707.5" y="291.3" font-size="12" text-anchor="middle" font-weight="normal" fill="#1c1c1c" textLength="11" lengthAdjust="spacingAndGlyphs">20</text>
<circle cx="707.5" cy="360" r="9.5" fill="#fff" stroke="#1c1c1c" stroke-width="1.7"/>
<text x="707.5" y="364.3" font-size="12" text-anchor="middle" font-weight="normal" fill="#1c1c1c" textLength="11" lengthAdjust="spacingAndGlyphs">20</text>
<circle cx="707.5" cy="436.25" r="9.5" fill="#fff" stroke="#1c1c1c" stroke-width="1.7"/>
<text x="707.5" y="440.55" font-size="12" text-anchor="middle" font-weight="normal" fill="#1c1c1c" textLength="11" lengthAdjust="spacingAndGlyphs">20</text>
<circle cx="660.75" cy="169.5" r="9.5" fill="#fff" stroke="#1c1c1c" stroke-width="1.7"/>
<text x="660.75" y="173.8" font-size="12" text-anchor="middle" font-weight="normal" fill="#1c1c1c" textLength="11" lengthAdjust="spacingAndGlyphs">20</text>
<path d="M488.2,248.9 l5,-4.2 v2.1 h7.6 v4.2 h-7.6 v2.1 z" fill="#fff" stroke="#1c1c1c" stroke-width="0.9"/>
<path d="M488.2,324.5 l5,-4.2 v2.1 h7.6 v4.2 h-7.6 v2.1 z" fill="#fff" stroke="#1c1c1c" stroke-width="0.9"/>
<path d="M488.2,400 l5,-4.2 v2.1 h7.6 v4.2 h-7.6 v2.1 z" fill="#fff" stroke="#1c1c1c" stroke-width="0.9"/>
<path d="M488.2,472.5 l5,-4.2 v2.1 h7.6 v4.2 h-7.6 v2.1 z" fill="#fff" stroke="#1c1c1c" stroke-width="0.9"/>
<text x="609.75" y="250.0" font-size="7" text-anchor="middle" font-weight="bold" fill="#1c1c1c" stroke="#1c1c1c" stroke-width="0.3" textLength="39" lengthAdjust="spacingAndGlyphs">PLANTA TERCERA</text>
<text x="609.75" y="256.2" font-size="6.3" text-anchor="middle" font-weight="bold" fill="#1c1c1c" stroke="#1c1c1c" stroke-width="0.3" textLength="30" lengthAdjust="spacingAndGlyphs">1.554,76 AGA</text>
<line x1="589.75" y1="257.5" x2="631.25" y2="257.5" stroke="#1c1c1c" stroke-width="1.0"/>
<polyline points="583.75,257.2 585.65,261.4 589.75,257.2" fill="none" stroke="#1c1c1c" stroke-width="0.8"/>
<text x="609.75" y="326.25" font-size="7" text-anchor="middle" font-weight="bold" fill="#1c1c1c" stroke="#1c1c1c" stroke-width="0.3" textLength="37.5" lengthAdjust="spacingAndGlyphs">PLANTA SEGONA</text>
<text x="609.75" y="332.45" font-size="6.3" text-anchor="middle" font-weight="bold" fill="#1c1c1c" stroke="#1c1c1c" stroke-width="0.3" textLength="30" lengthAdjust="spacingAndGlyphs">1.552,01 AGA</text>
<line x1="589.75" y1="333.5" x2="631.25" y2="333.5" stroke="#1c1c1c" stroke-width="1.0"/>
<polyline points="583.75,333.45 585.65,337.65 589.75,333.45" fill="none" stroke="#1c1c1c" stroke-width="0.8"/>
<text x="609.75" y="401.75" font-size="7" text-anchor="middle" font-weight="bold" fill="#1c1c1c" stroke="#1c1c1c" stroke-width="0.3" textLength="39" lengthAdjust="spacingAndGlyphs">PLANTA PRIMERA</text>
<text x="609.75" y="407.95" font-size="6.3" text-anchor="middle" font-weight="bold" fill="#1c1c1c" stroke="#1c1c1c" stroke-width="0.3" textLength="30" lengthAdjust="spacingAndGlyphs">1.549,26 AGA</text>
<line x1="589.75" y1="408.5" x2="631.25" y2="408.5" stroke="#1c1c1c" stroke-width="1.0"/>
<polyline points="583.75,408.95 585.65,413.15 589.75,408.95" fill="none" stroke="#1c1c1c" stroke-width="0.8"/>
<text x="609.75" y="473.3" font-size="7" text-anchor="middle" font-weight="bold" fill="#1c1c1c" stroke="#1c1c1c" stroke-width="0.3" textLength="33" lengthAdjust="spacingAndGlyphs">PLANTA BAIXA</text>
<text x="609.75" y="479.5" font-size="6.3" text-anchor="middle" font-weight="bold" fill="#1c1c1c" stroke="#1c1c1c" stroke-width="0.3" textLength="30" lengthAdjust="spacingAndGlyphs">1.546,65 AGA</text>
<line x1="589.75" y1="480.5" x2="631.25" y2="480.5" stroke="#1c1c1c" stroke-width="1.0"/>
<polyline points="583.75,480.5 585.65,484.7 589.75,480.5" fill="none" stroke="#1c1c1c" stroke-width="0.8"/>
<text x="700" y="258.3" font-size="5.9" text-anchor="start" font-weight="bold" fill="#1c1c1c" stroke="#1c1c1c" stroke-width="0.3" textLength="30" lengthAdjust="spacingAndGlyphs">1.554,67 AGA</text>
<line x1="696" y1="259.5" x2="731" y2="259.5" stroke="#1c1c1c" stroke-width="1.0"/>
<polyline points="691.5,259.5 694,263.8 696,259.5" fill="none" stroke="#1c1c1c" stroke-width="0.8"/>
<line x1="570.5" y1="187.5" x2="570.5" y2="485.8" stroke="#1c1c1c" stroke-width="1"/>
<line x1="568.2" y1="187.5" x2="572.6" y2="187.5" stroke="#1c1c1c" stroke-width="1.0"/>
<line x1="568.2" y1="262.5" x2="572.6" y2="262.5" stroke="#1c1c1c" stroke-width="1.0"/>
<line x1="568.2" y1="268.5" x2="572.6" y2="268.5" stroke="#1c1c1c" stroke-width="1.0"/>
<line x1="568.2" y1="338.5" x2="572.6" y2="338.5" stroke="#1c1c1c" stroke-width="1.0"/>
<line x1="568.2" y1="344.5" x2="572.6" y2="344.5" stroke="#1c1c1c" stroke-width="1.0"/>
<line x1="568.2" y1="414.5" x2="572.6" y2="414.5" stroke="#1c1c1c" stroke-width="1.0"/>
<line x1="568.2" y1="420.5" x2="572.6" y2="420.5" stroke="#1c1c1c" stroke-width="1.0"/>
<polygon points="570.4,485.8 569.5,482.6 571.3,482.6" fill="#1c1c1c"/>
<text x="569.4" y="223.7" font-size="7" text-anchor="middle" font-weight="bold" fill="#1c1c1c" stroke="#1c1c1c" stroke-width="0.3" textLength="8.2" lengthAdjust="spacingAndGlyphs" transform="rotate(-90 569.4 223.7)">275</text>
<text x="569.4" y="298.7" font-size="7" text-anchor="middle" font-weight="bold" fill="#1c1c1c" stroke="#1c1c1c" stroke-width="0.3" textLength="8.2" lengthAdjust="spacingAndGlyphs" transform="rotate(-90 569.4 298.7)">275</text>
<text x="569.4" y="376.2" font-size="7" text-anchor="middle" font-weight="bold" fill="#1c1c1c" stroke="#1c1c1c" stroke-width="0.3" textLength="8.2" lengthAdjust="spacingAndGlyphs" transform="rotate(-90 569.4 376.2)">275</text>
<text x="569.4" y="450" font-size="7" text-anchor="middle" font-weight="bold" fill="#1c1c1c" stroke="#1c1c1c" stroke-width="0.3" textLength="8.2" lengthAdjust="spacingAndGlyphs" transform="rotate(-90 569.4 450)">261</text>
<line x1="558.5" y1="255" x2="558.5" y2="285" stroke="#1c1c1c" stroke-width="0.8"/>
<text x="556.8" y="280" font-size="7" text-anchor="middle" font-weight="bold" fill="#1c1c1c" stroke="#1c1c1c" stroke-width="0.3" textLength="5.4" lengthAdjust="spacingAndGlyphs" transform="rotate(-90 556.8 280)">22</text>
<line x1="558.5" y1="330" x2="558.5" y2="358" stroke="#1c1c1c" stroke-width="0.8"/>
<text x="556.8" y="356" font-size="7" text-anchor="middle" font-weight="bold" fill="#1c1c1c" stroke="#1c1c1c" stroke-width="0.3" textLength="5.4" lengthAdjust="spacingAndGlyphs" transform="rotate(-90 556.8 356)">21</text>
<line x1="558.5" y1="406" x2="558.5" y2="434" stroke="#1c1c1c" stroke-width="0.8"/>
<text x="556.8" y="431" font-size="7" text-anchor="middle" font-weight="bold" fill="#1c1c1c" stroke="#1c1c1c" stroke-width="0.3" textLength="5.4" lengthAdjust="spacingAndGlyphs" transform="rotate(-90 556.8 431)">21</text>
<line x1="450.5" y1="137.5" x2="450.5" y2="199" stroke="#1c1c1c" stroke-width="0.8"/>
<line x1="446" y1="137.5" x2="458" y2="137.5" stroke="#1c1c1c" stroke-width="0.7"/>
<polygon points="450,137.5 449.1,140.7 450.9,140.7" fill="#1c1c1c"/>
<polygon points="450,187.5 449.1,184.3 450.9,184.3" fill="#1c1c1c"/>
<text x="448.2" y="161.5" font-size="7" text-anchor="middle" font-weight="bold" fill="#1c1c1c" stroke="#1c1c1c" stroke-width="0.3" textLength="8.2" lengthAdjust="spacingAndGlyphs" transform="rotate(-90 448.2 161.5)">181</text>
<line x1="437.5" y1="179.6" x2="437.5" y2="206.5" stroke="#1c1c1c" stroke-width="0.8"/>
<polygon points="437.5,187.5 436.6,184.3 438.4,184.3" fill="#1c1c1c"/>
<polygon points="437.5,193 436.6,196.2 438.4,196.2" fill="#1c1c1c"/>
<text x="435" y="205" font-size="7" text-anchor="middle" font-weight="bold" fill="#1c1c1c" stroke="#1c1c1c" stroke-width="0.3" textLength="5.4" lengthAdjust="spacingAndGlyphs" transform="rotate(-90 435 205)">21</text>
<line x1="452.5" y1="211.25" x2="452.5" y2="285" stroke="#1c1c1c" stroke-width="0.8"/>
<line x1="447" y1="211.5" x2="466" y2="211.5" stroke="#1c1c1c" stroke-width="0.7"/>
<line x1="447" y1="262.5" x2="466" y2="262.5" stroke="#1c1c1c" stroke-width="0.7"/>
<line x1="447" y1="268.5" x2="466" y2="268.5" stroke="#1c1c1c" stroke-width="0.7"/>
<polygon points="452,211.25 451.1,214.45 452.9,214.45" fill="#1c1c1c"/>
<polygon points="452,262.5 451.1,259.3 452.9,259.3" fill="#1c1c1c"/>
<text x="450.2" y="236.5" font-size="7" text-anchor="middle" font-weight="bold" fill="#1c1c1c" stroke="#1c1c1c" stroke-width="0.3" textLength="8.2" lengthAdjust="spacingAndGlyphs" transform="rotate(-90 450.2 236.5)">166</text>
<text x="450.2" y="279" font-size="7" text-anchor="middle" font-weight="bold" fill="#1c1c1c" stroke="#1c1c1c" stroke-width="0.3" textLength="5.4" lengthAdjust="spacingAndGlyphs" transform="rotate(-90 450.2 279)">21</text>
<text x="453.75" y="301.2" font-size="7" text-anchor="middle" font-weight="bold" fill="#1c1c1c" stroke="#1c1c1c" stroke-width="0.3" textLength="5.6" lengthAdjust="spacingAndGlyphs">20</text>
<line x1="451" y1="303.5" x2="479" y2="303.5" stroke="#1c1c1c" stroke-width="0.8"/>
<line x1="465.5" y1="301.2" x2="465.5" y2="305.59999999999997" stroke="#1c1c1c" stroke-width="1"/>
<line x1="471.5" y1="301.2" x2="471.5" y2="305.59999999999997" stroke="#1c1c1c" stroke-width="1"/>
<text x="453.75" y="377.5" font-size="7" text-anchor="middle" font-weight="bold" fill="#1c1c1c" stroke="#1c1c1c" stroke-width="0.3" textLength="5.6" lengthAdjust="spacingAndGlyphs">20</text>
<line x1="451" y1="379.5" x2="479" y2="379.5" stroke="#1c1c1c" stroke-width="0.8"/>
<line x1="465.5" y1="377.5" x2="465.5" y2="381.9" stroke="#1c1c1c" stroke-width="1"/>
<line x1="471.5" y1="377.5" x2="471.5" y2="381.9" stroke="#1c1c1c" stroke-width="1"/>
<text x="453.75" y="451.2" font-size="7" text-anchor="middle" font-weight="bold" fill="#1c1c1c" stroke="#1c1c1c" stroke-width="0.3" textLength="5.6" lengthAdjust="spacingAndGlyphs">20</text>
<line x1="451" y1="453.5" x2="479" y2="453.5" stroke="#1c1c1c" stroke-width="0.8"/>
<line x1="465.5" y1="451.2" x2="465.5" y2="455.59999999999997" stroke="#1c1c1c" stroke-width="1"/>
<line x1="471.5" y1="451.2" x2="471.5" y2="455.59999999999997" stroke="#1c1c1c" stroke-width="1"/>
<text x="424.6" y="198.8" font-size="6.2" text-anchor="start" font-weight="bold" fill="#1c1c1c" stroke="#1c1c1c" stroke-width="0.3" textLength="33.5" lengthAdjust="spacingAndGlyphs">BIGUES 15x20h</text>
<line x1="424" y1="200.5" x2="479" y2="200.5" stroke="#1c1c1c" stroke-width="0.8"/>
<polyline points="479,200 491,203 500,204.5" fill="none" stroke="#1c1c1c" stroke-width="0.8"/>
<line x1="494.5" y1="171.25" x2="494.5" y2="187.5" stroke="#1c1c1c" stroke-width="0.8"/>
<line x1="503.5" y1="171.25" x2="503.5" y2="193" stroke="#1c1c1c" stroke-width="0.8"/>
<text x="492.8" y="179" font-size="7" text-anchor="middle" font-weight="bold" fill="#1c1c1c" stroke="#1c1c1c" stroke-width="0.3" textLength="5.4" lengthAdjust="spacingAndGlyphs" transform="rotate(-90 492.8 179)">55</text>
<text x="502" y="179" font-size="7" text-anchor="middle" font-weight="bold" fill="#1c1c1c" stroke="#1c1c1c" stroke-width="0.3" textLength="5.4" lengthAdjust="spacingAndGlyphs" transform="rotate(-90 502 179)">62</text>
<line x1="481.5" y1="156" x2="481.5" y2="187.5" stroke="#1c1c1c" stroke-width="0.8"/>
<text x="479.8" y="169" font-size="5.2" text-anchor="middle" font-weight="bold" fill="#1c1c1c" stroke="#1c1c1c" stroke-width="0.3" textLength="4" lengthAdjust="spacingAndGlyphs" transform="rotate(-90 479.8 169)">17</text>
<line x1="619.5" y1="185" x2="619.5" y2="209.5" stroke="#1c1c1c" stroke-width="1.0"/>
<text x="617.5" y="197" font-size="7" text-anchor="middle" font-weight="bold" fill="#1c1c1c" stroke="#1c1c1c" stroke-width="0.3" textLength="5.4" lengthAdjust="spacingAndGlyphs" transform="rotate(-90 617.5 197)">38</text>
<line x1="702.5" y1="138.8" x2="702.5" y2="207" stroke="#1c1c1c" stroke-width="0.8"/>
<polygon points="702.5,138.8 701.6,142.0 703.4,142.0" fill="#1c1c1c"/>
<polygon points="702.5,187.5 701.6,184.3 703.4,184.3" fill="#1c1c1c"/>
<line x1="693" y1="138.5" x2="706" y2="138.5" stroke="#1c1c1c" stroke-width="0.7"/>
<text x="699" y="151.5" font-size="7" text-anchor="middle" font-weight="bold" fill="#1c1c1c" stroke="#1c1c1c" stroke-width="0.3" textLength="8.2" lengthAdjust="spacingAndGlyphs" transform="rotate(-90 699 151.5)">177</text>
<text x="700.8" y="203" font-size="7" text-anchor="middle" font-weight="bold" fill="#1c1c1c" stroke="#1c1c1c" stroke-width="0.3" textLength="5.4" lengthAdjust="spacingAndGlyphs" transform="rotate(-90 700.8 203)">21</text>
<line x1="770.5" y1="187.5" x2="770.5" y2="248.75" stroke="#1c1c1c" stroke-width="0.8"/>
<line x1="753" y1="248.5" x2="773" y2="248.5" stroke="#1c1c1c" stroke-width="0.7"/>
<polygon points="770,187.5 769.1,190.7 770.9,190.7" fill="#1c1c1c"/>
<polygon points="770,248.75 769.1,245.55 770.9,245.55" fill="#1c1c1c"/>
<text x="768.2" y="217.5" font-size="7" text-anchor="middle" font-weight="bold" fill="#1c1c1c" stroke="#1c1c1c" stroke-width="0.3" textLength="8.2" lengthAdjust="spacingAndGlyphs" transform="rotate(-90 768.2 217.5)">225</text>
<line x1="677.5" y1="246" x2="677.5" y2="271" stroke="#1c1c1c" stroke-width="0.8"/>
<text x="675.5" y="250.5" font-size="7" text-anchor="middle" font-weight="bold" fill="#1c1c1c" stroke="#1c1c1c" stroke-width="0.3" textLength="5.4" lengthAdjust="spacingAndGlyphs" transform="rotate(-90 675.5 250.5)">15</text>
<text x="743" y="256.5" font-size="7" text-anchor="middle" font-weight="bold" fill="#1c1c1c" stroke="#1c1c1c" stroke-width="0.3" textLength="5.4" lengthAdjust="spacingAndGlyphs" transform="rotate(-90 743 256.5)">16</text>
<line x1="737.5" y1="258" x2="737.5" y2="286" stroke="#1c1c1c" stroke-width="0.8"/>
<text x="735.3" y="281" font-size="7" text-anchor="middle" font-weight="bold" fill="#1c1c1c" stroke="#1c1c1c" stroke-width="0.3" textLength="5.4" lengthAdjust="spacingAndGlyphs" transform="rotate(-90 735.3 281)">21</text>
<line x1="712.5" y1="271" x2="712.5" y2="338.75" stroke="#1c1c1c" stroke-width="0.8"/>
<polygon points="712.5,338.75 711.6,335.55 713.4,335.55" fill="#1c1c1c"/>
<text x="710.5" y="303" font-size="7" text-anchor="middle" font-weight="bold" fill="#1c1c1c" stroke="#1c1c1c" stroke-width="0.3" textLength="8.2" lengthAdjust="spacingAndGlyphs" transform="rotate(-90 710.5 303)">265</text>
<line x1="725.5" y1="271" x2="725.5" y2="338.75" stroke="#1c1c1c" stroke-width="0.8"/>
<polygon points="725,338.75 724.1,335.55 725.9,335.55" fill="#1c1c1c"/>
<text x="723" y="305" font-size="7" text-anchor="middle" font-weight="bold" fill="#1c1c1c" stroke="#1c1c1c" stroke-width="0.3" textLength="8.2" lengthAdjust="spacingAndGlyphs" transform="rotate(-90 723 305)">244</text>
<text x="537" y="87.0" font-size="6.8" text-anchor="start" font-weight="bold" fill="#1c1c1c" stroke="#1c1c1c" stroke-width="0.3" textLength="28.4" lengthAdjust="spacingAndGlyphs">BIGA 30x85h</text>
<line x1="537" y1="88.5" x2="570" y2="88.5" stroke="#1c1c1c" stroke-width="0.8"/>
<line x1="570" y1="88.2" x2="578.75" y2="98" stroke="#1c1c1c" stroke-width="0.8"/>
<text x="466" y="114.0" font-size="6.8" text-anchor="start" font-weight="bold" fill="#1c1c1c" stroke="#1c1c1c" stroke-width="0.3" textLength="28.4" lengthAdjust="spacingAndGlyphs">BIGA 12x20h</text>
<line x1="466" y1="115.5" x2="501.5" y2="115.5" stroke="#1c1c1c" stroke-width="0.8"/>
<line x1="501.5" y1="115.2" x2="507" y2="122" stroke="#1c1c1c" stroke-width="0.8"/>
<text x="654.5" y="110.8" font-size="6.8" text-anchor="start" font-weight="bold" fill="#1c1c1c" stroke="#1c1c1c" stroke-width="0.3" textLength="28.4" lengthAdjust="spacingAndGlyphs">BIGA 12x20h</text>
<line x1="646.25" y1="112.5" x2="684" y2="112.5" stroke="#1c1c1c" stroke-width="0.8"/>
<line x1="646.25" y1="112" x2="642.5" y2="119" stroke="#1c1c1c" stroke-width="0.8"/>
<text x="727.2" y="143.20000000000002" font-size="6.8" text-anchor="start" font-weight="bold" fill="#1c1c1c" stroke="#1c1c1c" stroke-width="0.3" textLength="28.4" lengthAdjust="spacingAndGlyphs">BIGA 15x26h</text>
<line x1="720.6" y1="144.5" x2="757" y2="144.5" stroke="#1c1c1c" stroke-width="0.8"/>
<line x1="720.6" y1="144.4" x2="692" y2="160.9" stroke="#1c1c1c" stroke-width="0.9"/>
<line x1="720.6" y1="144.4" x2="709.8" y2="166.2" stroke="#1c1c1c" stroke-width="0.9"/>
<text x="727.2" y="156.20000000000002" font-size="6.8" text-anchor="start" font-weight="bold" fill="#1c1c1c" stroke="#1c1c1c" stroke-width="0.3" textLength="28.4" lengthAdjust="spacingAndGlyphs">BIGA 15x30h</text>
<line x1="721.9" y1="157.5" x2="757" y2="157.5" stroke="#1c1c1c" stroke-width="0.8"/>
<line x1="721.9" y1="157.4" x2="717.4" y2="171.3" stroke="#1c1c1c" stroke-width="0.9"/>
<text x="706" y="214.60000000000002" font-size="6.8" text-anchor="start" font-weight="bold" fill="#1c1c1c" stroke="#1c1c1c" stroke-width="0.3" textLength="38" lengthAdjust="spacingAndGlyphs">PILAR 100x100x5</text>
<line x1="706" y1="215.5" x2="750" y2="215.5" stroke="#1c1c1c" stroke-width="0.8"/>
<line x1="643.5" y1="474" x2="643.5" y2="501.5" stroke="#1c1c1c" stroke-width="1.0"/>
<polygon points="643.75,486.2 642.85,483.0 644.65,483.0" fill="#1c1c1c"/>
<polygon points="643.75,501.5 642.85,498.3 644.65,498.3" fill="#1c1c1c"/>
<text x="642" y="477.5" font-size="7" text-anchor="middle" font-weight="bold" fill="#1c1c1c" stroke="#1c1c1c" stroke-width="0.3" textLength="5.4" lengthAdjust="spacingAndGlyphs" transform="rotate(-90 642 477.5)">55</text>
<line x1="763.5" y1="488" x2="763.5" y2="521" stroke="#444" stroke-width="0.7"/>
<text x="760.5" y="522.5" font-size="3.6" text-anchor="middle" font-weight="bold" fill="#1c1c1c" stroke="#1c1c1c" stroke-width="0.3" textLength="3.2" lengthAdjust="spacingAndGlyphs" transform="rotate(-90 760.5 522.5)">15</text>
<text x="523" y="528.4" font-size="5.4" text-anchor="start" font-weight="bold" fill="#1c1c1c" stroke="#1c1c1c" stroke-width="0.3" textLength="16.8" lengthAdjust="spacingAndGlyphs">GRAVES</text>
<line x1="517.5" y1="529.5" x2="541.5" y2="529.5" stroke="#1c1c1c" stroke-width="0.8"/>
<line x1="517.5" y1="529.6" x2="508.75" y2="505" stroke="#1c1c1c" stroke-width="0.8"/>
<text x="590.5" y="528.4" font-size="5.4" text-anchor="start" font-weight="bold" fill="#1c1c1c" stroke="#1c1c1c" stroke-width="0.3" textLength="45.2" lengthAdjust="spacingAndGlyphs">FORMIGÓ DE NETEJA</text>
<line x1="583.75" y1="529.5" x2="637.5" y2="529.5" stroke="#1c1c1c" stroke-width="0.8"/>
<line x1="583.75" y1="529.6" x2="575.5" y2="502.5" stroke="#1c1c1c" stroke-width="0.8"/>
<text x="496.3" y="562.8" font-size="12.2" text-anchor="start" font-weight="normal" fill="#2a2a2a" textLength="224.3" lengthAdjust="spacingAndGlyphs">SECCIÓ MUR CANVI DE COBERTA (FILA B APROX.)</text>
<line x1="496" y1="565.5" x2="721" y2="565.5" stroke="#2a2a2a" stroke-width="1.0"/>
</g>
</svg></body></html>
